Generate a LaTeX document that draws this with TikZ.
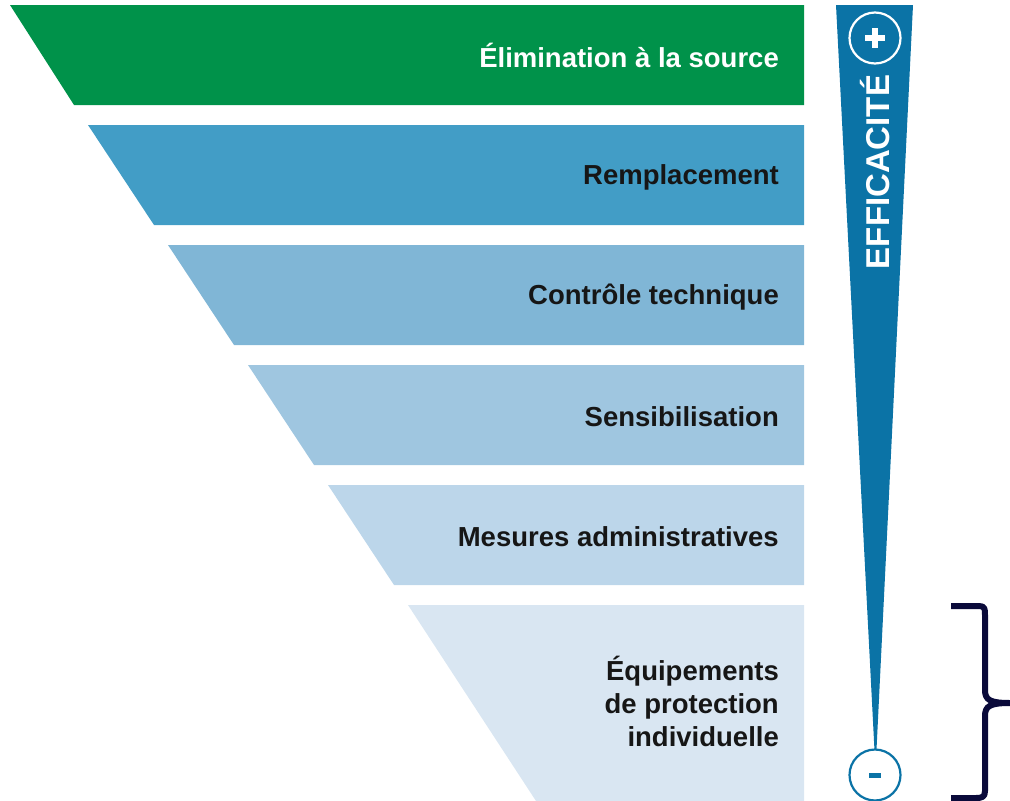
\documentclass[tikz,border=0pt]{standalone}
\usepackage{fontspec}
\setmainfont{Liberation Sans}
\definecolor{c1}{HTML}{00924A}
\definecolor{c2}{HTML}{429DC6}
\definecolor{c3}{HTML}{80B6D6}
\definecolor{c4}{HTML}{9FC6E0}
\definecolor{c5}{HTML}{BCD6EA}
\definecolor{c6}{HTML}{D9E6F2}
\definecolor{barblue}{HTML}{0B73A6}
\definecolor{navy}{HTML}{0A0A3A}
\definecolor{txt}{HTML}{161616}
\tikzset{
  lbl/.style={anchor=east, font=\bfseries\fontsize{27.5}{33}\selectfont, text=txt, align=right, inner sep=0pt},
}
\begin{document}
\begin{tikzpicture}[x=1pt,y=-1pt]
\useasboundingbox (0,0) rectangle (1010,801);
% bands
\fill[c1] (10,5) -- (804,5) -- (804,105) -- (74,105) -- cycle;
\fill[c2] (88,125) -- (804,125) -- (804,225) -- (154,225) -- cycle;
\fill[c3] (168,245) -- (804,245) -- (804,345) -- (234,345) -- cycle;
\fill[c4] (248,365) -- (804,365) -- (804,465) -- (314,465) -- cycle;
\fill[c5] (328,485) -- (804,485) -- (804,585) -- (394,585) -- cycle;
\fill[c6] (408,605) -- (804,605) -- (804,801) -- (536,801) -- cycle;
\node[lbl, text=white] (t1) at (779,55) {Élimination à la source};
\node[lbl] (t2) at (779,177) {Remplacement};
\node[lbl] (t3) at (779,297) {Contrôle technique};
\node[lbl] (t4) at (779,417) {Sensibilisation};
\node[lbl] (t5) at (779,537) {Mesures administratives};
\node[lbl] (t6) at (779,701) {Équipements\\de protection\\individuelle};
% thermometer bar
\fill[barblue] (836,5) -- (913,5) -- (875.5,770) -- cycle;
\node[circle, draw=white, line width=2.2pt, minimum size=51pt, inner sep=0pt] (plus) at (875,38) {};
\fill[white] (865,35) rectangle (885,41);
\fill[white] (872,28) rectangle (878,48);
\node[circle, draw=barblue, fill=white, line width=2.2pt, minimum size=51pt, inner sep=0pt] (minus) at (875,775) {};
\fill[barblue] (869,773) rectangle (881,777.5);
\node[rotate=90, text=white, font=\bfseries\fontsize{33}{33}\selectfont, inner sep=0pt] (eff) at (875,172) {EFFICACITÉ};
% bracket
\draw[navy, line width=6pt, line join=round] (951,606) -- (979,606) .. controls (985,606) and (985,609) .. (985,615) -- (985,690) .. controls (985,700) and (990,703) .. (1010,703)
  (1010,703) .. controls (990,703) and (985,706) .. (985,716) -- (985,791) .. controls (985,797) and (982,798) .. (976,798) -- (951,798);
\end{tikzpicture}
\end{document}
